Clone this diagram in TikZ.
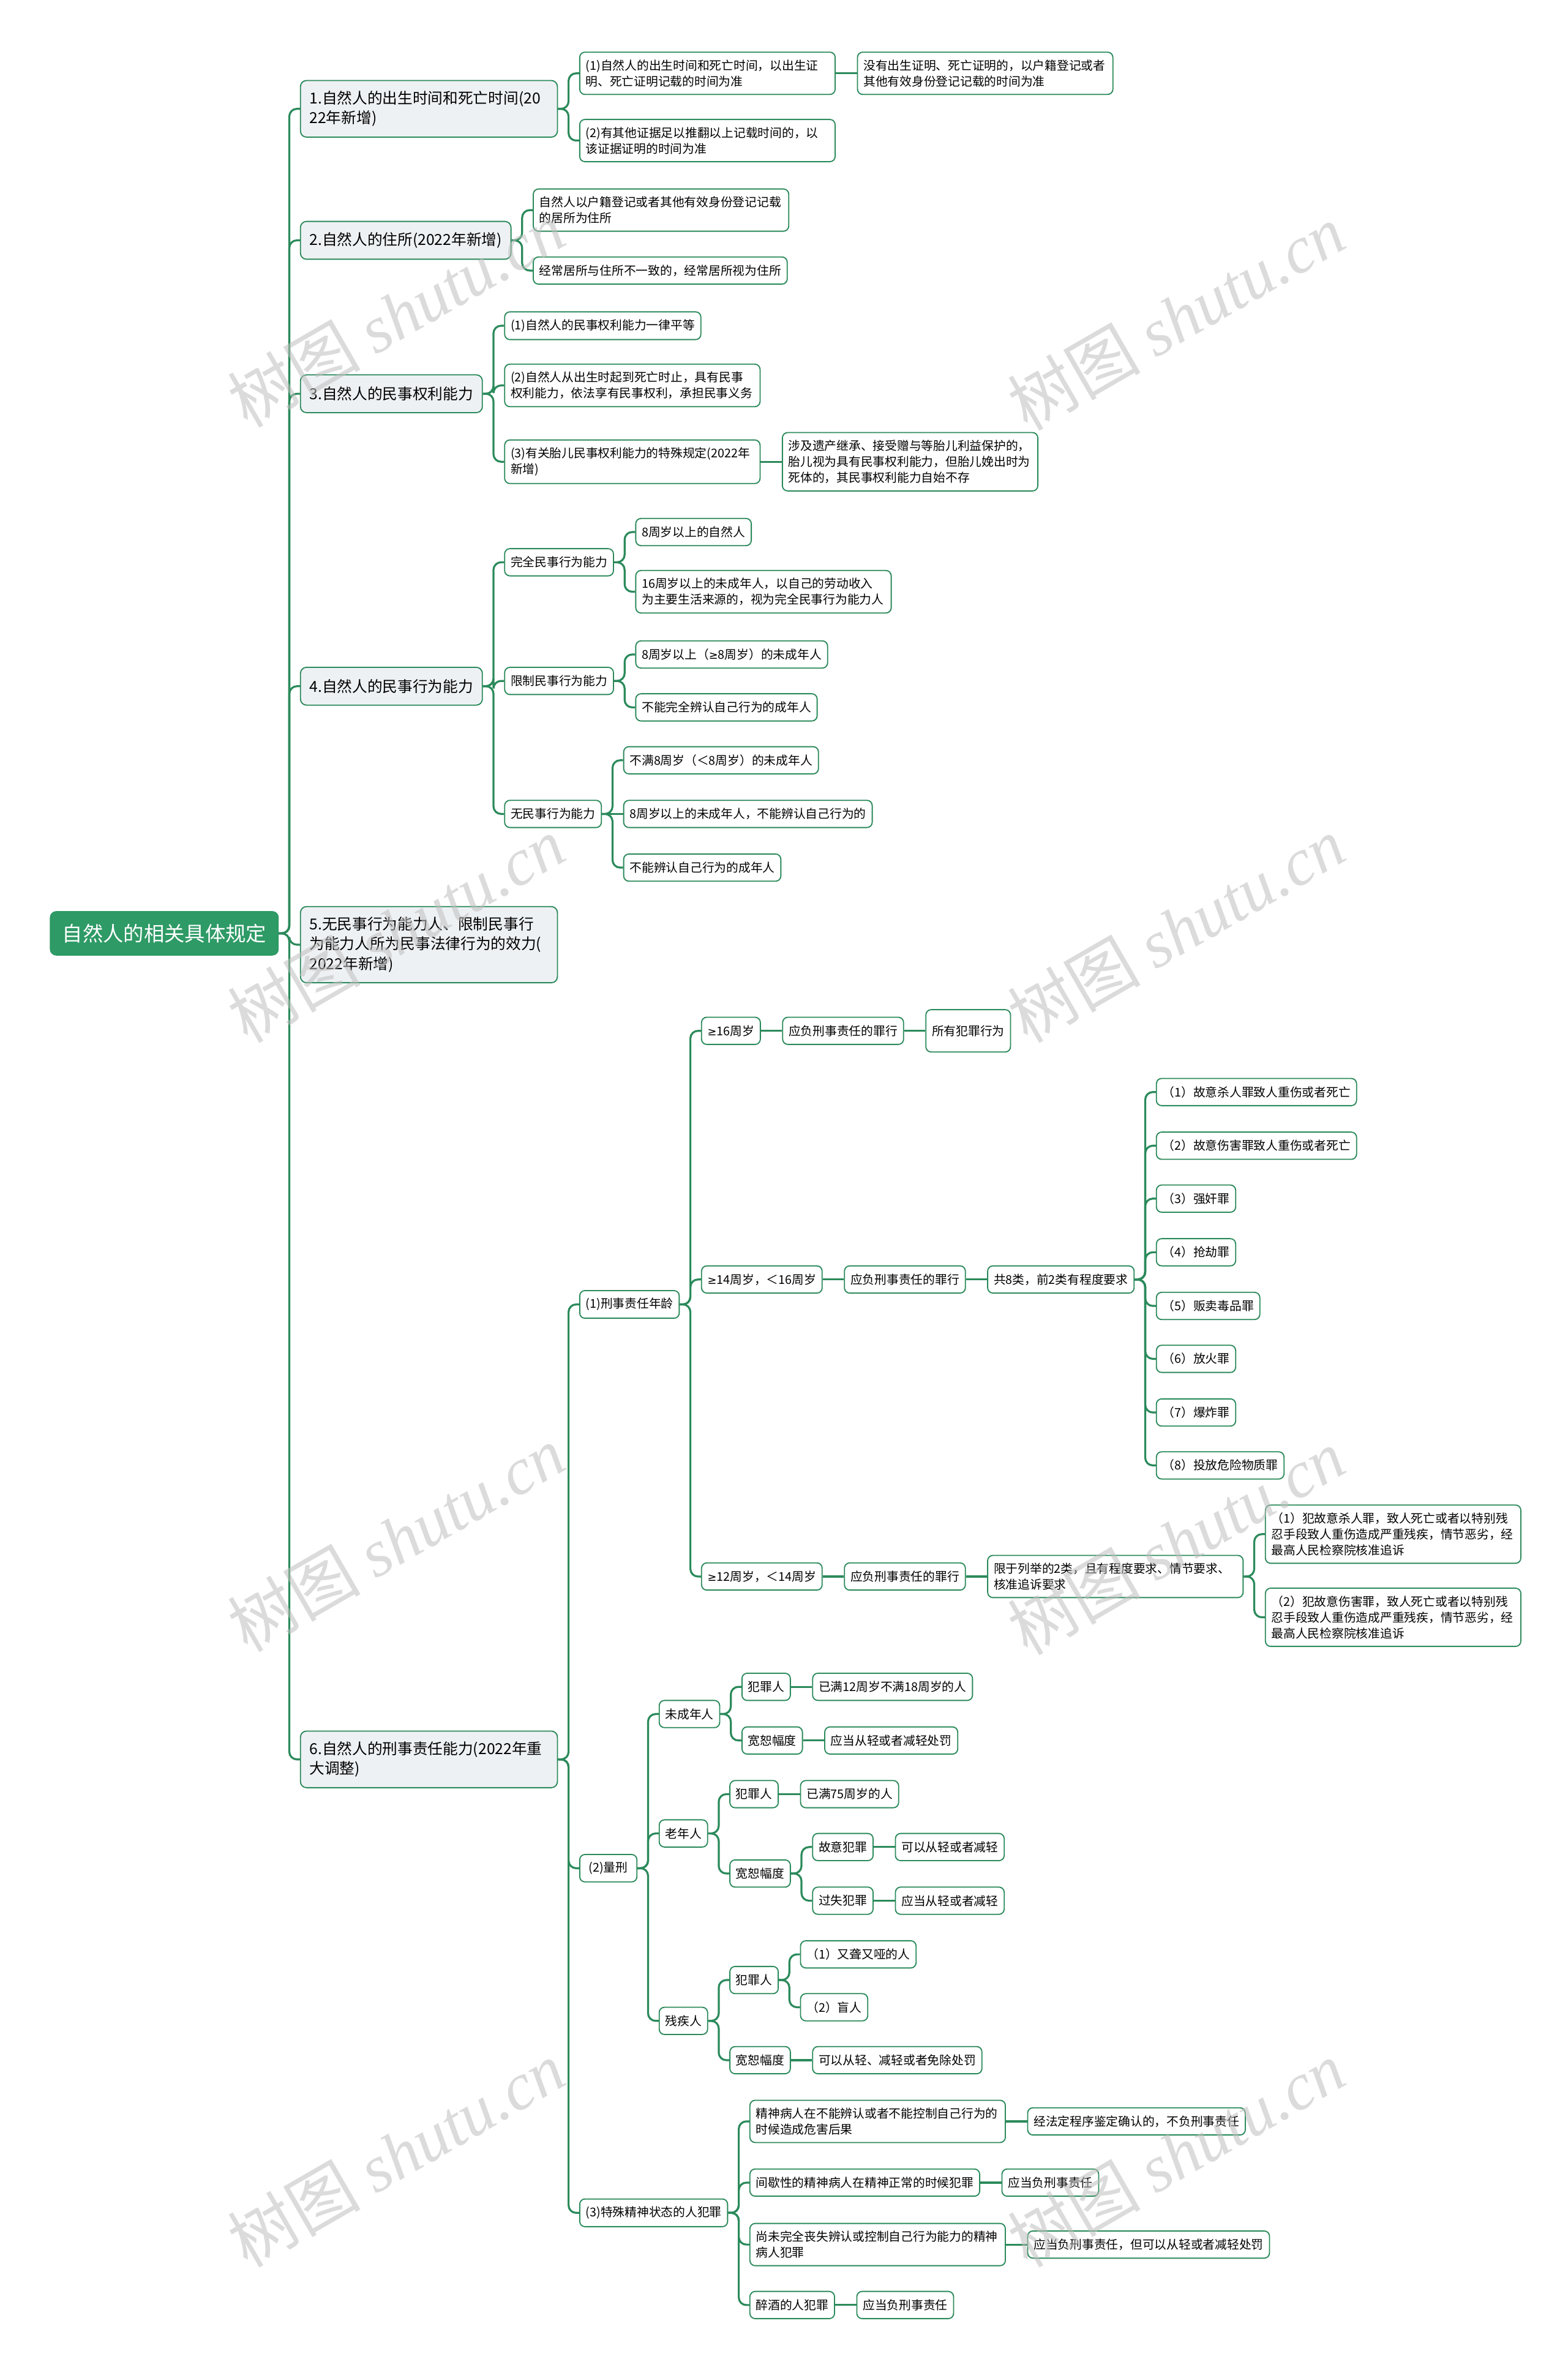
\documentclass[tikz,border=0pt]{standalone}
\usepackage{fontspec}
\setmainfont{Noto Sans CJK SC}
\newfontfamily\wmfont{Liberation Serif}
\newfontfamily\symfont{DejaVu Sans}
\newcommand\gesym{{\symfont\fontsize{7.2}{10}\selectfont ≥}}
\usetikzlibrary{backgrounds}
\definecolor{lk}{HTML}{2B8A5B}
\definecolor{rootg}{HTML}{2E9A66}
\definecolor{lone}{HTML}{EEF1F4}
\begin{document}
\begin{tikzpicture}[x=1pt,y=-1pt,
 link/.style={draw=lk,line width=1.3pt,rounded corners=5pt},
 nd/.style={draw=lk,line width=0.75pt,rounded corners=3.5pt,fill=white,anchor=west,align=left,inner xsep=4pt,inner ysep=5pt,minimum height=18pt,font=\fontsize{8}{10.5}\selectfont},
 wr/.style={text width=161pt},
 lo/.style={nd,fill=lone,inner xsep=6pt,inner ysep=7pt,minimum height=25pt,rounded corners=4pt,font=\fontsize{10}{13}\selectfont},
 lw/.style={text width=158pt},
 rt/.style={draw=rootg,fill=rootg,text=white,anchor=west,rounded corners=4pt,inner xsep=8pt,inner ysep=7pt,minimum height=29pt,font=\fontsize{13.5}{16}\selectfont},
 wm/.style={rotate=30,text=black!25,opacity=0.55,font=\fontsize{44}{48}\selectfont}
]
\useasboundingbox (0,0) rectangle (1037,1568);
% root
\node[rt] (r) at (33,617.5) {自然人的相关具体规定};
% level 1
\node[lo,lw,xshift=14pt] (a1) at (r.east |- 0,72) {1.自然人的出生时间和死亡时间(20\\22年新增)};
\node[lo,xshift=14pt] (a2) at (r.east |- 0,159) {2.自然人的住所(2022年新增)};
\node[lo,xshift=14pt] (a3) at (r.east |- 0,260.5) {3.自然人的民事权利能力};
\node[lo,xshift=14pt] (a4) at (r.east |- 0,454) {4.自然人的民事行为能力};
\node[lo,lw,xshift=14pt] (a5) at (r.east |- 0,625) {5.无民事行为能力人、限制民事行\\为能力人所为民事法律行为的效力(\\2022年新增)};
\node[lo,lw,xshift=14pt] (a6) at (r.east |- 0,1164) {6.自然人的刑事责任能力(2022年重\\大调整)};
% branch 1
\node[nd,wr,xshift=14pt] (b11) at (a1.east |- 0,48.5) {(1)自然人的出生时间和死亡时间，以出生证\\明、死亡证明记载的时间为准};
\node[nd,wr,xshift=14pt] (b111) at (b11.east |- 0,48.5) {没有出生证明、死亡证明的，以户籍登记或者\\其他有效身份登记记载的时间为准};
\node[nd,wr,xshift=14pt] (b12) at (a1.east |- 0,93) {(2)有其他证据足以推翻以上记载时间的，以\\该证据证明的时间为准};
% branch 2
\node[nd,wr,xshift=14pt] (b21) at (a2.east |- 0,139) {自然人以户籍登记或者其他有效身份登记记载\\的居所为住所};
\node[nd,xshift=14pt] (b22) at (a2.east |- 0,179) {经常居所与住所不一致的，经常居所视为住所};
% branch 3
\node[nd,xshift=14pt] (b31) at (a3.east |- 0,215.5) {(1)自然人的民事权利能力一律平等};
\node[nd,wr,xshift=14pt] (b32) at (a3.east |- 0,255) {(2)自然人从出生时起到死亡时止，具有民事\\权利能力，依法享有民事权利，承担民事义务};
\node[nd,wr,xshift=14pt] (b33) at (a3.east |- 0,305.5) {(3)有关胎儿民事权利能力的特殊规定(2022年\\新增)};
\node[nd,wr,xshift=14pt] (b331) at (b33.east |- 0,305.5) {涉及遗产继承、接受赠与等胎儿利益保护的，\\胎儿视为具有民事权利能力，但胎儿娩出时为\\死体的，其民事权利能力自始不存};
% branch 4
\node[nd,xshift=14pt] (b41) at (a4.east |- 0,372) {完全民事行为能力};
\node[nd,xshift=14pt] (b411) at (b41.east |- 0,352) {8周岁以上的自然人};
\node[nd,wr,xshift=14pt] (b412) at (b41.east |- 0,391.5) {16周岁以上的未成年人，以自己的劳动收入\\为主要生活来源的，视为完全民事行为能力人};
\node[nd,xshift=14pt] (b42) at (a4.east |- 0,450.5) {限制民事行为能力};
\node[nd,xshift=14pt] (b421) at (b42.east |- 0,433) {8周岁以上（\gesym 8周岁）的未成年人};
\node[nd,xshift=14pt] (b422) at (b42.east |- 0,468) {不能完全辨认自己行为的成年人};
\node[nd,xshift=14pt] (b43) at (a4.east |- 0,538.5) {无民事行为能力};
\node[nd,xshift=14pt] (b431) at (b43.east |- 0,503) {不满8周岁（＜8周岁）的未成年人};
\node[nd,xshift=14pt] (b432) at (b43.east |- 0,538.5) {8周岁以上的未成年人，不能辨认自己行为的};
\node[nd,xshift=14pt] (b433) at (b43.east |- 0,574) {不能辨认自己行为的成年人};
% branch 6
\node[nd,xshift=14pt] (c1) at (a6.east |- 0,863) {(1)刑事责任年龄};
\node[nd,xshift=14pt] (c11) at (c1.east |- 0,682) {\gesym 16周岁};
\node[nd,xshift=14pt] (c111) at (c11.east |- 0,682) {应负刑事责任的罪行};
\node[nd,xshift=14pt,minimum height=28pt] (c1111) at (c111.east |- 0,682) {\raisebox{-5pt}{所有犯罪行为}};
\node[nd,xshift=14pt] (c12) at (c1.east |- 0,846.5) {\gesym 14周岁，＜16周岁};
\node[nd,xshift=14pt] (c121) at (c12.east |- 0,846.5) {应负刑事责任的罪行};
\node[nd,xshift=14pt] (c1211) at (c121.east |- 0,846.5) {共8类，前2类有程度要求};
\node[nd,xshift=14pt] (d1) at (c1211.east |- 0,722.5) {（1）故意杀人罪致人重伤或者死亡};
\node[nd,xshift=14pt] (d2) at (c1211.east |- 0,758) {（2）故意伤害罪致人重伤或者死亡};
\node[nd,xshift=14pt] (d3) at (c1211.east |- 0,793) {（3）强奸罪};
\node[nd,xshift=14pt] (d4) at (c1211.east |- 0,828.5) {（4）抢劫罪};
\node[nd,xshift=14pt] (d5) at (c1211.east |- 0,864) {（5）贩卖毒品罪};
\node[nd,xshift=14pt] (d6) at (c1211.east |- 0,899) {（6）放火罪};
\node[nd,xshift=14pt] (d7) at (c1211.east |- 0,934.5) {（7）爆炸罪};
\node[nd,xshift=14pt] (d8) at (c1211.east |- 0,969.5) {（8）投放危险物质罪};
\node[nd,xshift=14pt] (c13) at (c1.east |- 0,1043) {\gesym 12周岁，＜14周岁};
\node[nd,xshift=14pt] (c131) at (c13.east |- 0,1043) {应负刑事责任的罪行};
\node[nd,wr,xshift=14pt] (c1311) at (c131.east |- 0,1043) {限于列举的2类，且有程度要求、情节要求、\\核准追诉要求};
\node[nd,wr,xshift=14pt] (e1) at (c1311.east |- 0,1015) {（1）犯故意杀人罪，致人死亡或者以特别残\\忍手段致人重伤造成严重残疾，情节恶劣，经\\最高人民检察院核准追诉};
\node[nd,wr,xshift=14pt] (e2) at (c1311.east |- 0,1070) {（2）犯故意伤害罪，致人死亡或者以特别残\\忍手段致人重伤造成严重残疾，情节恶劣，经\\最高人民检察院核准追诉};
% (2) sentencing
\node[nd,xshift=14pt,inner xsep=6pt] (c2) at (a6.east |- 0,1236) {(2)量刑};
\node[nd,xshift=14pt] (f1) at (c2.east |- 0,1134) {未成年人};
\node[nd,xshift=14pt] (f11) at (f1.east |- 0,1116) {犯罪人};
\node[nd,xshift=14pt] (f111) at (f11.east |- 0,1116) {已满12周岁不满18周岁的人};
\node[nd,xshift=14pt] (f12) at (f1.east |- 0,1151.5) {宽恕幅度};
\node[nd,xshift=14pt] (f121) at (f12.east |- 0,1151.5) {应当从轻或者减轻处罚};
\node[nd,xshift=14pt] (f2) at (c2.east |- 0,1213) {老年人};
\node[nd,xshift=14pt] (f21) at (f2.east |- 0,1187) {犯罪人};
\node[nd,xshift=14pt] (f211) at (f21.east |- 0,1187) {已满75周岁的人};
\node[nd,xshift=14pt] (f22) at (f2.east |- 0,1239.5) {宽恕幅度};
\node[nd,xshift=14pt] (f221) at (f22.east |- 0,1222) {故意犯罪};
\node[nd,xshift=14pt] (f2211) at (f221.east |- 0,1222) {可以从轻或者减轻};
\node[nd,xshift=14pt] (f222) at (f22.east |- 0,1257.5) {过失犯罪};
\node[nd,xshift=14pt] (f2221) at (f222.east |- 0,1257.5) {应当从轻或者减轻};
\node[nd,xshift=14pt] (f3) at (c2.east |- 0,1337) {残疾人};
\node[nd,xshift=14pt] (f31) at (f3.east |- 0,1310) {犯罪人};
\node[nd,xshift=14pt] (f311) at (f31.east |- 0,1293) {（1）又聋又哑的人};
\node[nd,xshift=14pt] (f312) at (f31.east |- 0,1328) {（2）盲人};
\node[nd,xshift=14pt] (f32) at (f3.east |- 0,1363) {宽恕幅度};
\node[nd,xshift=14pt] (f321) at (f32.east |- 0,1363) {可以从轻、减轻或者免除处罚};
% (3) special mental state
\node[nd,xshift=14pt] (c3) at (a6.east |- 0,1464) {(3)特殊精神状态的人犯罪};
\node[nd,wr,xshift=14pt] (g1) at (c3.east |- 0,1403.5) {精神病人在不能辨认或者不能控制自己行为的\\时候造成危害后果};
\node[nd,xshift=14pt] (g11) at (g1.east |- 0,1403.5) {经法定程序鉴定确认的，不负刑事责任};
\node[nd,xshift=14pt] (g2) at (c3.east |- 0,1444) {间歇性的精神病人在精神正常的时候犯罪};
\node[nd,xshift=14pt] (g21) at (g2.east |- 0,1444) {应当负刑事责任};
\node[nd,wr,xshift=14pt] (g3) at (c3.east |- 0,1485) {尚未完全丧失辨认或控制自己行为能力的精神\\病人犯罪};
\node[nd,xshift=14pt] (g31) at (g3.east |- 0,1485) {应当负刑事责任，但可以从轻或者减轻处罚};
\node[nd,xshift=14pt] (g4) at (c3.east |- 0,1525) {醉酒的人犯罪};
\node[nd,xshift=14pt] (g41) at (g4.east |- 0,1525) {应当负刑事责任};
% connectors
\begin{scope}[on background layer]
\fill[white] (0,0) rectangle (1037,1568);
% elbow connectors
\foreach \p/\c in {r/a1,r/a2,r/a3,r/a4,r/a5,r/a6,
  a1/b11,a1/b12,a2/b21,a2/b22,
  a3/b31,a3/b32,a3/b33,
  a4/b41,a4/b42,a4/b43,b41/b411,b41/b412,b42/b421,b42/b422,b43/b431,b43/b433,
  a6/c1,a6/c2,a6/c3,
  c1/c11,c1/c12,c1/c13,
  c1211/d1,c1211/d2,c1211/d3,c1211/d4,c1211/d5,c1211/d6,c1211/d7,c1211/d8,
  c1311/e1,c1311/e2,
  c2/f1,c2/f2,c2/f3,f1/f11,f1/f12,
  f2/f21,f2/f22,f22/f221,f22/f222,
  f3/f31,f3/f32,f31/f311,f31/f312,
  c3/g1,c3/g2,c3/g3,c3/g4}
  \draw[link] (\p.east) -- ++(7,0) |- (\c.west);
% straight connectors
\foreach \p/\c in {b11/b111,b33/b331,b43/b432,
  c11/c111,c111/c1111,c12/c121,c121/c1211,c13/c131,c131/c1311,
  f11/f111,f12/f121,f21/f211,f221/f2211,f222/f2221,f32/f321,
  g1/g11,g2/g21,g3/g31,g4/g41}
  \draw[link] (\p.east) -- (\c.west);
\end{scope}
% watermarks
\foreach \x/\y in {262/208,778/210,262/615,778/615,262/1018,778/1020,262/1425,778/1425}
  \node[wm] at (\x,\y) {树图 {\wmfont\itshape shutu.cn}};
\end{tikzpicture}
\end{document}
